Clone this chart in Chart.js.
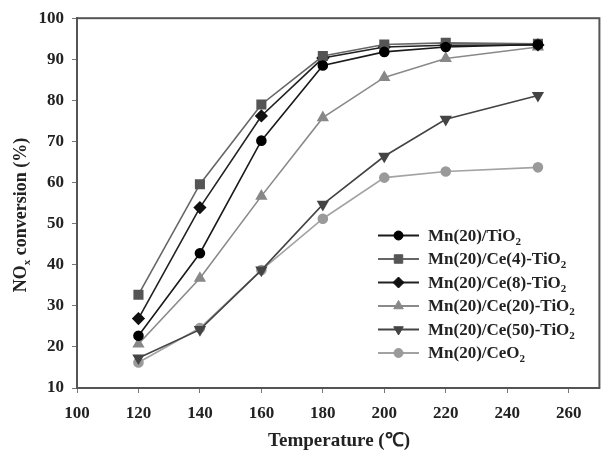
<!DOCTYPE html>
<html><head><meta charset="utf-8">
<script src="https://cdn.jsdelivr.net/npm/chart.js@4/dist/chart.umd.min.js"></script>
<style>html,body{margin:0;padding:0;background:#fff}#wrap{width:607px;height:456px}</style>
</head><body><div id="wrap"><canvas id="c" width="607" height="456"></canvas></div>
<script>
// ---- data ----
const temperatures = [120, 140, 160, 180, 200, 220, 250];
const seriesBase = ['Mn(20)/TiO', 'Mn(20)/Ce(4)-TiO', 'Mn(20)/Ce(8)-TiO', 'Mn(20)/Ce(20)-TiO', 'Mn(20)/Ce(50)-TiO', 'Mn(20)/CeO'];
const seriesSub = ['2', '2', '2', '2', '2', '2'];
const mnTiO2  = [22.7, 42.8, 70.2, 88.5, 91.8, 93.0, 93.6];
const mnCe4   = [32.7, 59.6, 79.0, 90.8, 93.6, 94.0, 93.8];
const mnCe8   = [26.9, 53.9, 76.2, 90.3, 93.0, 93.4, 93.5];
const mnCe20  = [20.7, 36.7, 56.7, 75.8, 85.6, 90.2, 93.0];
const mnCe50  = [17.3, 24.2, 38.7, 54.7, 66.4, 75.4, 81.2];
const mnCeO2  = [16.2, 24.6, 38.7, 51.2, 61.2, 62.7, 63.7];
const xTickLabels = [100, 120, 140, 160, 180, 200, 220, 240, 260];
const yTickLabels = [10, 20, 30, 40, 50, 60, 70, 80, 90, 100];
const xTitle = 'Temperature (\u2103)';
const yTitleParts = ['NO', 'x', ' conversion (%)'];

// ---- styles ----
const styles = [
  {line:'#1a1a1a', pt:'#000000', ps:'circle', r:4.5, rot:0},
  {line:'#666666', pt:'#555555', ps:'rect', r:6, rot:0},
  {line:'#222222', pt:'#111111', ps:'rectRot', r:5.5, rot:0},
  {line:'#8a8a8a', pt:'#888888', ps:'triangle', r:5.5, rot:0},
  {line:'#444444', pt:'#444444', ps:'triangle', r:5.5, rot:180},
  {line:'#a3a3a3', pt:'#9a9a9a', ps:'circle', r:4.5, rot:0}
];
const allSeries = [mnTiO2, mnCe4, mnCe8, mnCe20, mnCe50, mnCeO2];

const datasets = allSeries.map((vals, i) => ({
  label: seriesBase[i] + seriesSub[i],
  data: temperatures.map((t, j) => ({x: t, y: vals[j]})),
  borderColor: styles[i].line,
  backgroundColor: styles[i].pt,
  pointBackgroundColor: styles[i].pt,
  pointBorderColor: styles[i].pt,
  pointStyle: styles[i].ps,
  pointRadius: styles[i].r,
  pointRotation: styles[i].rot,
  borderWidth: 1.6,
  tension: 0,
  fill: false
}));

const FONT = '"Liberation Serif", "Times New Roman", serif';

function drawMarker(ctx, st, x, y) {
  ctx.fillStyle = st.pt; ctx.strokeStyle = st.pt; ctx.lineWidth = 1;
  if (Chart.helpers && Chart.helpers.drawPoint) {
    Chart.helpers.drawPoint(ctx, {pointStyle: st.ps, radius: st.r, rotation: st.rot, borderWidth: 1}, x, y);
  } else {
    ctx.beginPath(); ctx.arc(x, y, st.r, 0, Math.PI * 2); ctx.fill();
  }
}

const deco = {
  id: 'deco',
  afterDraw(chart) {
    const ctx = chart.ctx, a = chart.chartArea;
    ctx.save();
    // frame
    ctx.strokeStyle = '#555'; ctx.lineWidth = 2;
    ctx.strokeRect(a.left, a.top, a.right - a.left, a.bottom - a.top);
    // legend
    const lx0 = 378, lx1 = 419, tx = 428, y0 = 235.5, dy = 23.5;
    seriesBase.forEach((name, i) => {
      const st = styles[i], y = y0 + i * dy;
      ctx.strokeStyle = st.line; ctx.lineWidth = 2;
      ctx.beginPath(); ctx.moveTo(lx0, y); ctx.lineTo(lx1, y); ctx.stroke();
      drawMarker(ctx, st, (lx0 + lx1) / 2, y);
      ctx.fillStyle = '#222';
      ctx.font = 'bold 17px ' + FONT;
      ctx.textAlign = 'left'; ctx.textBaseline = 'alphabetic';
      ctx.fillText(name, tx, y + 5);
      const w = ctx.measureText(name).width;
      ctx.font = 'bold 11px ' + FONT;
      ctx.fillText(seriesSub[i], tx + w, y + 9);
    });
    // x title
    ctx.fillStyle = '#222';
    ctx.font = 'bold 19px ' + FONT;
    ctx.textAlign = 'center'; ctx.textBaseline = 'middle';
    ctx.fillText(xTitle, 339, 441);
    // y title (rotated)
    ctx.translate(20, 215);
    ctx.rotate(-Math.PI / 2);
    ctx.font = 'bold 18px ' + FONT;
    const w0 = ctx.measureText(yTitleParts[0]).width;
    ctx.font = 'bold 11px ' + FONT;
    const w1 = ctx.measureText(yTitleParts[1]).width;
    ctx.font = 'bold 18px ' + FONT;
    const w2 = ctx.measureText(yTitleParts[2]).width;
    let sx = -(w0 + w1 + w2) / 2;
    ctx.textAlign = 'left'; ctx.textBaseline = 'alphabetic';
    ctx.fillText(yTitleParts[0], sx, 6);
    ctx.font = 'bold 11px ' + FONT;
    ctx.fillText(yTitleParts[1], sx + w0, 10);
    ctx.font = 'bold 18px ' + FONT;
    ctx.fillText(yTitleParts[2], sx + w0 + w1, 6);
    ctx.restore();
  }
};

new Chart(document.getElementById('c'), {
  type: 'line',
  data: {datasets},
  options: {
    responsive: false,
    animation: false,
    devicePixelRatio: 1,
    layout: {padding: {left: 0, top: 12, right: 6, bottom: 0}},
    plugins: {legend: {display: false}, tooltip: {enabled: false}},
    scales: {
      x: {
        type: 'linear', min: 100, max: 270,
        afterBuildTicks: s => { s.ticks = xTickLabels.map(v => ({value: v})); },
        afterFit: s => { s.height = 68; },
        grid: {display: true, drawOnChartArea: false, drawTicks: true, tickLength: 5, color: '#777'},
        border: {display: true, color: '#555', width: 2},
        ticks: {color: '#222', font: {family: FONT, size: 17, weight: 'bold'}, padding: 10, maxRotation: 0}
      },
      y: {
        type: 'linear', min: 10, max: 100,
        afterBuildTicks: s => { s.ticks = yTickLabels.map(v => ({value: v})); },
        afterFit: s => { s.width = 77; },
        grid: {display: true, drawOnChartArea: false, drawTicks: true, tickLength: 5, color: '#777'},
        border: {display: true, color: '#555', width: 2},
        ticks: {color: '#222', font: {family: FONT, size: 17, weight: 'bold'}, padding: 8}
      }
    }
  },
  plugins: [deco]
});
</script>
</body></html>
